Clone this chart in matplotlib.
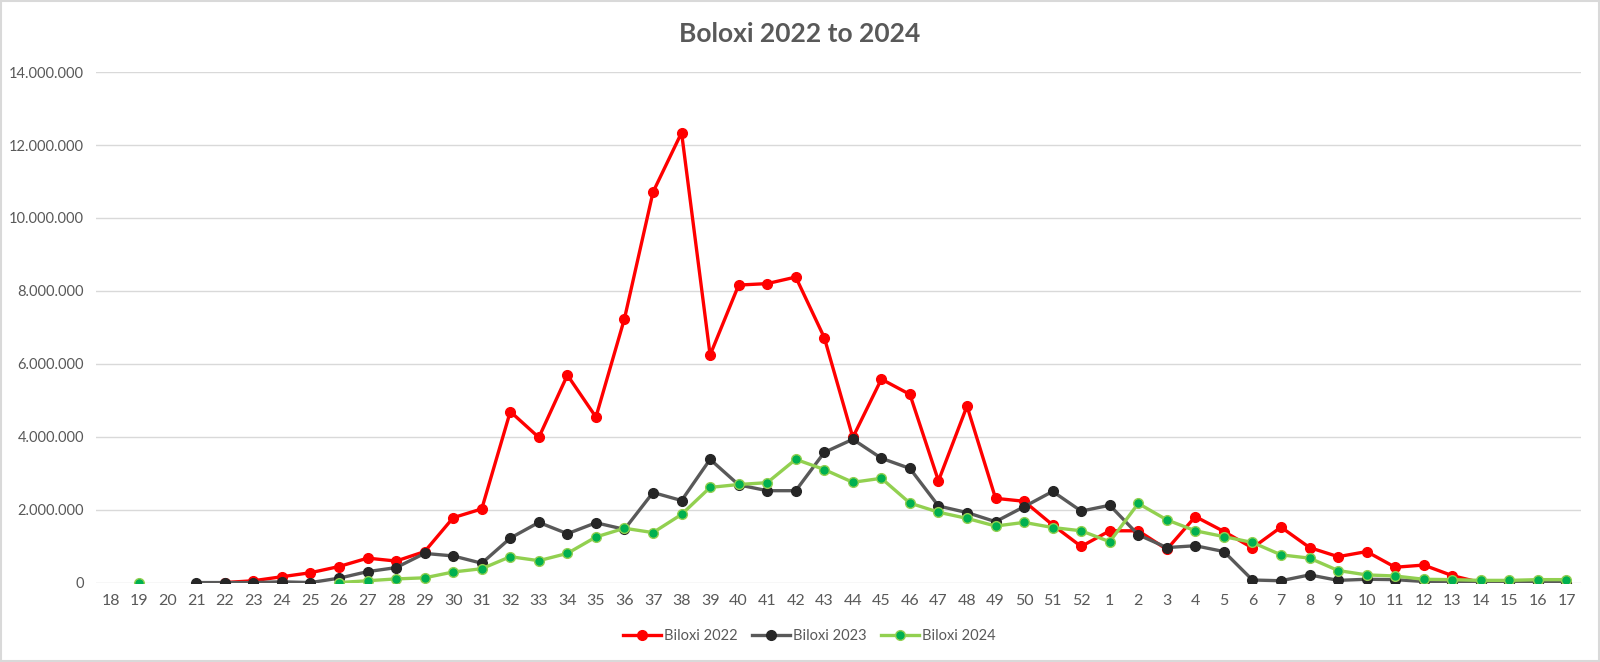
import numpy as np
import matplotlib.pyplot as plt
from matplotlib.ticker import FuncFormatter
from matplotlib.patches import Rectangle

# week labels (season runs from week 18 to week 17 of next year)
weeks = [str(w) for w in range(18, 53)] + [str(w) for w in range(1, 18)]

nan = np.nan
# values in millions
biloxi_2022 = [nan, nan, nan, nan, 0.0, 0.05, 0.16, 0.27, 0.44, 0.67, 0.59, 0.85,
               1.78, 2.02, 4.69, 3.98, 5.69, 4.54, 7.24, 10.71, 12.34, 6.24, 8.16,
               8.20, 8.38, 6.72, 3.98, 5.58, 5.16, 2.79, 4.84, 2.31, 2.23, 1.58,
               0.99, 1.42, 1.42, 0.91, 1.81, 1.40, 0.95, 1.52, 0.96, 0.71, 0.85,
               0.42, 0.48, 0.19, 0.0, 0.0, 0.0, 0.0]
biloxi_2023 = [nan, nan, nan, 0.0, 0.0, 0.0, 0.02, 0.0, 0.12, 0.30, 0.41, 0.80,
               0.73, 0.53, 1.22, 1.65, 1.34, 1.64, 1.46, 2.47, 2.25, 3.38, 2.68,
               2.52, 2.52, 3.57, 3.93, 3.41, 3.13, 2.10, 1.92, 1.67, 2.08, 2.50,
               1.96, 2.12, 1.31, 0.96, 1.01, 0.85, 0.07, 0.05, 0.21, 0.06, 0.09,
               0.08, 0.03, 0.0, 0.0, 0.0, 0.0, 0.0]
biloxi_2024 = [nan, 0.0, nan, nan, nan, nan, nan, nan, 0.0, 0.05, 0.10, 0.13,
               0.29, 0.38, 0.71, 0.60, 0.80, 1.25, 1.49, 1.37, 1.87, 2.61, 2.69,
               2.74, 3.38, 3.10, 2.75, 2.86, 2.18, 1.93, 1.76, 1.55, 1.65, 1.51,
               1.42, 1.12, 2.17, 1.72, 1.42, 1.26, 1.10, 0.76, 0.67, 0.33, 0.21,
               0.18, 0.09, 0.08, 0.06, 0.06, 0.08, 0.08]

plt.rcParams['font.family'] = ['Lato', 'DejaVu Sans']

fig = plt.figure(figsize=(16, 6.62), dpi=100)
ax = fig.add_axes([0.06025, 0.12, 0.9277, 0.771])

x = np.arange(len(weeks))
y22 = np.array(biloxi_2022) * 1e6
y23 = np.array(biloxi_2023) * 1e6
y24 = np.array(biloxi_2024) * 1e6

ax.plot(x, y22, color='#FF0000', lw=2.4, marker='o', ms=7,
        mfc='#FF0000', mec='#FF0000', label='Biloxi 2022', zorder=3)
ax.plot(x, y23, color='#595959', lw=2.4, marker='o', ms=7,
        mfc='#262626', mec='#262626', label='Biloxi 2023', zorder=4)
ax.plot(x, y24, color='#92D050', lw=2.4, marker='o', ms=7,
        mfc='#00B050', mec='#92D050', mew=1, label='Biloxi 2024', zorder=5)

ax.set_xlim(-0.5, len(weeks) - 0.5)
ax.set_ylim(0, 14e6)
ax.set_xticks(x)
ax.set_xticklabels(weeks)
ax.set_yticks(np.arange(0, 14e6 + 1, 2e6))
ax.yaxis.set_major_formatter(FuncFormatter(lambda v, p: f'{int(v):,}'.replace(',', '.')))
ax.tick_params(axis='both', length=0, colors='#595959')
ax.tick_params(axis='x', pad=8, labelsize=11.5)
ax.tick_params(axis='y', pad=9, labelsize=10.5)

ax.grid(axis='y', color='#D9D9D9', lw=1)
ax.set_axisbelow(True)
for s in ax.spines.values():
    s.set_visible(False)

fig.text(0.5, 0.948, 'Boloxi 2022 to 2024', ha='center', va='center',
         fontsize=19, fontweight='bold', color='#595959')

leg = fig.legend(loc='center', bbox_to_anchor=(0.506, 0.039), ncol=3, frameon=False,
                 fontsize=10.5, handlelength=2.6, columnspacing=1.0, handletextpad=0.2)
for t in leg.get_texts():
    t.set_color('#595959')

fig.patches.append(Rectangle((0.0005, 0.001), 0.999, 0.998, transform=fig.transFigure,
                             fill=False, edgecolor='#D9D9D9', lw=1.5))

fig.savefig('out.png', dpi=100)
